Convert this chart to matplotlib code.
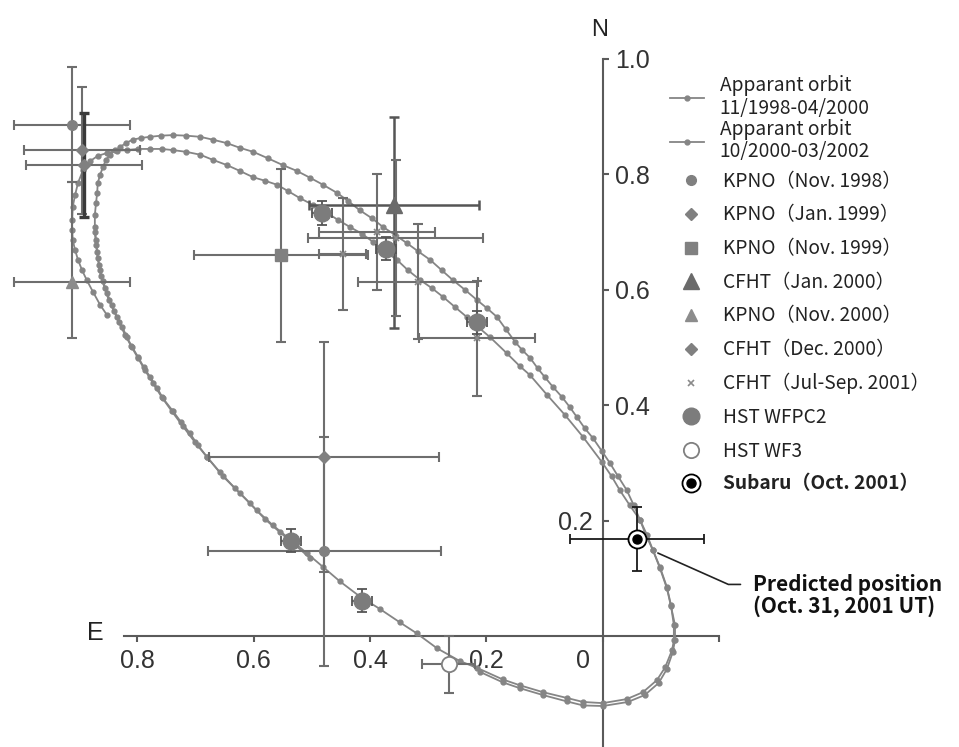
import matplotlib
matplotlib.use('Agg')
import matplotlib.pyplot as plt
from matplotlib.transforms import ScaledTranslation
from matplotlib.legend_handler import HandlerTuple

plt.rcParams['font.family'] = ['Noto Sans CJK JP', 'DejaVu Sans']

# ---------------- data (E offset, N offset) ----------------
orbit1_label = 'Apparant orbit\n11/1998-04/2000'
orbit1_e = [0.852, 0.864, 0.876, 0.887, 0.895, 0.902, 0.907, 0.911, 0.912, 0.912,
            0.911, 0.907, 0.902, 0.893, 0.881, 0.868, 0.852, 0.835, 0.818, 0.799,
            0.778, 0.758, 0.739, 0.716, 0.692, 0.670, 0.646, 0.624, 0.601, 0.581,
            0.560, 0.541, 0.521, 0.498, 0.474, 0.455, 0.435, 0.414, 0.395, 0.375,
            0.354, 0.335, 0.314, 0.294, 0.275, 0.254, 0.234, 0.215, 0.194, 0.165,
            0.143, 0.125, 0.096, 0.065, 0.034, 0.002, -0.015, -0.029, -0.046, -0.064,
            -0.076, -0.086, -0.098, -0.110, -0.117, -0.122, -0.122, -0.119, -0.107, -0.093,
            -0.069, -0.041, 0.000, 0.034, 0.062, 0.103, 0.143, 0.172, 0.216, 0.246,
            0.285, 0.320, 0.349, 0.383, 0.418, 0.452, 0.481, 0.509, 0.538, 0.567,
            0.595, 0.624, 0.653, 0.680, 0.696, 0.710, 0.725, 0.739, 0.756, 0.766,
            0.778, 0.789, 0.799, 0.809, 0.818, 0.826, 0.835, 0.844, 0.852, 0.859,
            0.864, 0.868, 0.871, 0.873]
orbit1_n = [0.556, 0.574, 0.596, 0.617, 0.634, 0.652, 0.669, 0.686, 0.704, 0.721,
            0.744, 0.764, 0.785, 0.808, 0.823, 0.832, 0.837, 0.841, 0.842, 0.844,
            0.844, 0.844, 0.842, 0.839, 0.834, 0.825, 0.816, 0.806, 0.795, 0.789,
            0.782, 0.771, 0.759, 0.747, 0.733, 0.721, 0.709, 0.697, 0.683, 0.667,
            0.652, 0.634, 0.617, 0.603, 0.588, 0.570, 0.553, 0.536, 0.518, 0.490,
            0.468, 0.452, 0.418, 0.383, 0.345, 0.302, 0.277, 0.253, 0.227, 0.201,
            0.175, 0.149, 0.120, 0.085, 0.054, 0.019, -0.007, -0.024, -0.054, -0.076,
            -0.097, -0.109, -0.116, -0.114, -0.107, -0.097, -0.085, -0.075, -0.055, -0.043,
            -0.021, 0.005, 0.024, 0.047, 0.069, 0.095, 0.120, 0.144, 0.168, 0.192,
            0.218, 0.248, 0.277, 0.310, 0.331, 0.352, 0.371, 0.390, 0.412, 0.430,
            0.449, 0.466, 0.484, 0.501, 0.518, 0.536, 0.553, 0.574, 0.594, 0.615,
            0.634, 0.655, 0.678, 0.700]

orbit2_label = 'Apparant orbit\n10/2000-03/2002'
orbit2_e = [0.503, 0.529, 0.555, 0.581, 0.607, 0.632, 0.658, 0.680, 0.701, 0.722,
            0.741, 0.758, 0.773, 0.787, 0.799, 0.811, 0.821, 0.832, 0.840, 0.849,
            0.856, 0.863, 0.866, 0.869, 0.871, 0.873, 0.873, 0.871, 0.869, 0.868,
            0.864, 0.859, 0.854, 0.847, 0.838, 0.830, 0.820, 0.808, 0.794, 0.778,
            0.759, 0.739, 0.716, 0.692, 0.670, 0.646, 0.624, 0.601, 0.576, 0.550,
            0.526, 0.503, 0.481, 0.457, 0.438, 0.418, 0.397, 0.378, 0.357, 0.337,
            0.318, 0.297, 0.277, 0.258, 0.237, 0.216, 0.199, 0.182, 0.167, 0.151,
            0.139, 0.125, 0.112, 0.100, 0.086, 0.070, 0.057, 0.045, 0.031, 0.017,
            0.002, -0.012, -0.026, -0.041, -0.053, -0.064, -0.074, -0.086, -0.098, -0.110,
            -0.117, -0.124, -0.124, -0.120, -0.110, -0.096, -0.072, -0.043, 0.000, 0.034,
            0.062, 0.103, 0.143, 0.172, 0.211]
orbit2_n = [0.135, 0.158, 0.180, 0.203, 0.231, 0.256, 0.284, 0.310, 0.336, 0.364,
            0.390, 0.414, 0.438, 0.461, 0.482, 0.503, 0.522, 0.544, 0.563, 0.582,
            0.603, 0.624, 0.643, 0.666, 0.686, 0.709, 0.730, 0.750, 0.768, 0.785,
            0.799, 0.813, 0.825, 0.834, 0.842, 0.847, 0.854, 0.860, 0.863, 0.865,
            0.867, 0.868, 0.867, 0.865, 0.860, 0.854, 0.846, 0.839, 0.828, 0.816,
            0.806, 0.794, 0.782, 0.768, 0.754, 0.738, 0.724, 0.709, 0.695, 0.681,
            0.667, 0.652, 0.634, 0.617, 0.600, 0.582, 0.568, 0.553, 0.532, 0.510,
            0.496, 0.482, 0.464, 0.449, 0.432, 0.414, 0.397, 0.380, 0.360, 0.343,
            0.321, 0.300, 0.277, 0.253, 0.227, 0.201, 0.175, 0.149, 0.118, 0.083,
            0.052, 0.019, -0.007, -0.028, -0.057, -0.081, -0.102, -0.114, -0.121, -0.120,
            -0.113, -0.102, -0.090, -0.080, -0.062]

kpno_nov98_e = [0.912, 0.479]
kpno_nov98_n = [0.886, 0.147]
kpno_nov98_xerr = [0.10, 0.20]
kpno_nov98_yerr = [0.10, 0.198]

kpno_jan99_e = [0.895, 0.479]
kpno_jan99_n = [0.842, 0.310]
kpno_jan99_xerr = [0.10, 0.198]
kpno_jan99_yerr = [0.11, 0.199]

kpno_nov99_e = [0.553]
kpno_nov99_n = [0.660]
kpno_nov99_xerr = [0.15]
kpno_nov99_yerr = [0.15]

cfht_jan00_e = [0.359]
cfht_jan00_n = [0.747]
cfht_jan00_xerr = [0.146]
cfht_jan00_yerr = [[0.213], [0.153]]

kpno_nov00_e = [0.912]
kpno_nov00_n = [0.614]
kpno_nov00_xerr = [0.10]
kpno_nov00_yerr = [[0.097], [0.172]]

cfht_dec00_e = [0.892]
cfht_dec00_n = [0.816]
cfht_dec00_xerr = [0.10]
cfht_dec00_yerr = [0.09]

cfht_01_e = [0.388, 0.318, 0.447, 0.356, 0.216]
cfht_01_n = [0.700, 0.614, 0.662, 0.690, 0.516]
cfht_01_xerr = [0.10, 0.103, 0.04, 0.15, 0.10]
cfht_01_yerr = [0.10, 0.10, 0.097, 0.135, 0.10]

hst_wfpc2_e = [0.483, 0.373, 0.216, 0.536, 0.414]
hst_wfpc2_n = [0.733, 0.671, 0.544, 0.165, 0.061]
hst_wfpc2_xerr = [0.017, 0.017, 0.017, 0.017, 0.017]
hst_wfpc2_yerr = [0.02, 0.02, 0.02, 0.02, 0.02]

hst_wf3_e = [0.265]
hst_wf3_n = [-0.049]
hst_wf3_xerr = [0.045]
hst_wf3_yerr = [0.05]

subaru_e = [-0.058]
subaru_n = [0.168]
subaru_xerr = [0.115]
subaru_yerr = [0.055]

predicted_e = -0.0945
predicted_n = 0.144

xticks = [0.8, 0.6, 0.4, 0.2, 0.0, -0.2]
xticklabels = ['0.8', '0.6', '0.4', '0.2', '0', '']
yticks = [0.2, 0.4, 0.6, 0.8, 1.0]
yticklabels = ['0.2', '0.4', '0.6', '0.8', '1.0']

labels = ['KPNO（Nov. 1998）', 'KPNO（Jan. 1999）', 'KPNO（Nov. 1999）',
          'CFHT（Jan. 2000）', 'KPNO（Nov. 2000）', 'CFHT（Dec. 2000）',
          'CFHT（Jul-Sep. 2001）', 'HST WFPC2', 'HST WF3', 'Subaru（Oct. 2001）']

# ---------------- figure ----------------
fig = plt.figure(figsize=(9.59, 7.47), dpi=100)
ax = fig.add_axes([0, 0, 1, 1])
ax.set_xlim(1.036, -0.612)
ax.set_ylim(-0.192, 1.102)

AX = '#5a5a5a'
for s in ['left', 'top']:
    ax.spines[s].set_visible(False)
ax.spines['bottom'].set_position(('data', 0))
ax.spines['bottom'].set_bounds(-0.2, 0.823)
ax.spines['right'].set_position(('data', 0))
ax.spines['right'].set_bounds(-0.25, 1.0)
for s in ['bottom', 'right']:
    ax.spines[s].set_color(AX)
    ax.spines[s].set_linewidth(1.5)
ax.xaxis.set_ticks_position('bottom')
ax.yaxis.set_ticks_position('right')
ax.set_xticks(xticks)
ax.set_xticklabels(xticklabels)
ax.set_yticks(yticks)
ax.set_yticklabels(yticklabels)
ax.tick_params(axis='both', direction='out', length=4, width=1.5, color=AX,
               labelsize=18, labelcolor='#333333', pad=5)
for t in ax.get_xticklabels() + ax.get_yticklabels():
    t.set_family('Liberation Sans')
# shift "0" on x-axis and "0.2" on y-axis as in the reference
for t in ax.get_xticklabels():
    if t.get_text() == '0':
        t.set_transform(t.get_transform() + ScaledTranslation(-0.2, 0, fig.dpi_scale_trans))
for t in ax.get_yticklabels():
    if t.get_text() == '0.2':
        t.set_transform(t.get_transform() + ScaledTranslation(-0.57, 0, fig.dpi_scale_trans))

ax.text(0.005, 1.05, 'N', fontsize=17, ha='center', va='center', color='#222222',
        family='Liberation Sans')
ax.text(0.873, 0.005, 'E', fontsize=18, ha='center', va='center', color='#222222',
        family='Liberation Sans')

ORB = '#858585'
o1, = ax.plot(orbit1_e, orbit1_n, '-o', color=ORB, lw=1.3, ms=3.5, zorder=3)
o2, = ax.plot(orbit2_e, orbit2_n, '-o', color=ORB, lw=1.3, ms=3.5, zorder=3)

EB = '#6e6e6e'
DK = '#3a3a3a'
def ebar(e, n, xe, ye, color=EB, lw=1.5):
    ax.errorbar(e, n, xerr=xe, yerr=ye, fmt='none', ecolor=color, elinewidth=lw,
                capsize=3.5, capthick=lw, zorder=4)

ebar(kpno_nov98_e, kpno_nov98_n, kpno_nov98_xerr, kpno_nov98_yerr)
ebar(kpno_jan99_e, kpno_jan99_n, kpno_jan99_xerr, kpno_jan99_yerr)
ebar(kpno_nov99_e, kpno_nov99_n, kpno_nov99_xerr, kpno_nov99_yerr)
ebar(cfht_jan00_e, cfht_jan00_n, cfht_jan00_xerr, cfht_jan00_yerr, color='#555555', lw=1.8)
ebar(kpno_nov00_e, kpno_nov00_n, kpno_nov00_xerr, kpno_nov00_yerr)
ebar(cfht_dec00_e, cfht_dec00_n, cfht_dec00_xerr, None)
ebar(cfht_dec00_e, cfht_dec00_n, None, cfht_dec00_yerr, color=DK, lw=2.4)
ebar(cfht_01_e, cfht_01_n, cfht_01_xerr, cfht_01_yerr)
ebar(hst_wfpc2_e, hst_wfpc2_n, hst_wfpc2_xerr, hst_wfpc2_yerr, color='#555555', lw=1.3)
ebar(hst_wf3_e, hst_wf3_n, hst_wf3_xerr, hst_wf3_yerr)
ebar(subaru_e, subaru_n, subaru_xerr, subaru_yerr, color='#1a1a1a', lw=1.3)

MK = '#808080'
h1, = ax.plot(kpno_nov98_e, kpno_nov98_n, 'o', color=MK, ms=7, ls='none', zorder=5)
h2, = ax.plot(kpno_jan99_e, kpno_jan99_n, 'D', color=MK, ms=6, ls='none', zorder=5)
h3, = ax.plot(kpno_nov99_e, kpno_nov99_n, 's', color=MK, ms=8, ls='none', zorder=5)
h4, = ax.plot(cfht_jan00_e, cfht_jan00_n, '^', color='#6a6a6a', ms=12, ls='none', zorder=5)
h5, = ax.plot(kpno_nov00_e, kpno_nov00_n, '^', color='#8c8c8c', ms=9, ls='none', zorder=5)
h6, = ax.plot(cfht_dec00_e, cfht_dec00_n, 'D', color=MK, ms=6, ls='none', zorder=5)
h7, = ax.plot(cfht_01_e, cfht_01_n, 'x', color='#8a8a8a', ms=5, mew=1.2, ls='none', zorder=5)
h8, = ax.plot(hst_wfpc2_e, hst_wfpc2_n, 'o', color='#7c7c7c', ms=12, ls='none', zorder=5)
h9, = ax.plot(hst_wf3_e, hst_wf3_n, 'o', mfc='white', mec='#808080', mew=1.3, ms=11,
              ls='none', zorder=5)
h10a, = ax.plot(subaru_e, subaru_n, 'o', mfc='white', mec='black', mew=1.3, ms=13,
                ls='none', zorder=5)
h10b, = ax.plot(subaru_e, subaru_n, 'o', color='black', ms=6.5, ls='none', zorder=6)

ax.annotate('Predicted position\n(Oct. 31, 2001 UT)', xy=(predicted_e, predicted_n),
            xytext=(-0.258, 0.071), textcoords='data', fontsize=15, fontweight='bold',
            ha='left', va='center', color='#111111', linespacing=1.0,
            arrowprops=dict(arrowstyle='-', color='#222222', lw=1.2,
                            connectionstyle='angle,angleA=0,angleB=-24,rad=0',
                            relpos=(0, 0.75), shrinkA=7, shrinkB=0))

leg1 = ax.legend([o1, o2], [orbit1_label, orbit2_label], loc='upper left',
                 bbox_to_anchor=(670 / 959, 1 - 75 / 747), frameon=False, fontsize=13.8,
                 handlelength=1.75, handletextpad=0.85, labelspacing=0.0,
                 borderpad=0, borderaxespad=0)
for t in leg1.get_texts():
    t.set_linespacing(1.1)
    t.set_color('#222222')
ax.add_artist(leg1)

leg2 = ax.legend([h1, h2, h3, h4, h5, h6, h7, h8, h9, (h10a, h10b)], labels,
                 handler_map={tuple: HandlerTuple(ndivide=1, pad=0)},
                 loc='upper left', bbox_to_anchor=(681 / 959, 1 - 171 / 747),
                 frameon=False, fontsize=13.8, handlelength=1.0, handletextpad=1.2,
                 labelspacing=0.66, borderpad=0, borderaxespad=0)
for t in leg2.get_texts():
    t.set_color('#222222')
leg2.get_texts()[-1].set_fontweight('bold')

fig.savefig('out.png', dpi=100)
